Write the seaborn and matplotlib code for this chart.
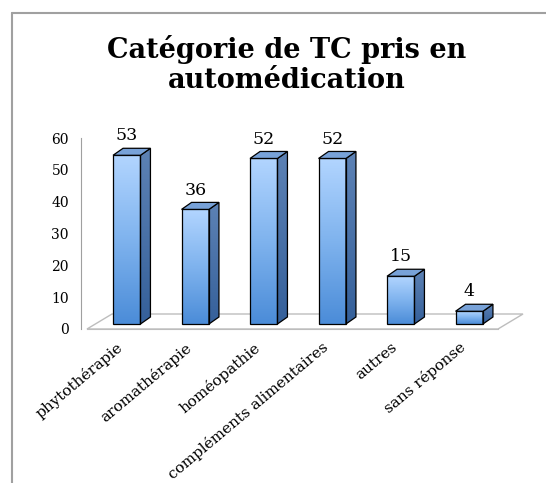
import numpy as np
import matplotlib
matplotlib.use("Agg")
import matplotlib.pyplot as plt
import seaborn as sns
from matplotlib.colors import LinearSegmentedColormap
from matplotlib.patches import Polygon
from matplotlib.lines import Line2D

categories = ["phytothérapie", "aromathérapie", "homéopathie",
              "compléments alimentaires", "autres", "sans réponse"]
values = [53, 36, 52, 52, 15, 4]
y_ticks = [0, 10, 20, 30, 40, 50, 60]
title = "Catégorie de TC pris en\nautomédication"

sns.set_style("white")
plt.rcParams['font.family'] = ['DejaVu Serif']
plt.rcParams['text.color'] = 'black'
plt.rcParams['xtick.labelcolor'] = 'black'
plt.rcParams['ytick.labelcolor'] = 'black'

fig = plt.figure(figsize=(5.46, 4.83), dpi=100)
ax = fig.add_axes([87/546, 154/483, 411/546, 191/483])

# pixel sizes -> data units
px_x = 411 / 6.0
px_y = 191 / 60.0
off_x, off_y = 5.5 / px_x, 5 / px_y      # bars sit a bit inside the floor
dx, dy = 10 / px_x, 7 / px_y             # bar depth
fdx, fdy = 25 / px_x, 15 / px_y          # floor depth

sns.barplot(x=categories, y=values, ax=ax, color="#6fa3e0", width=0.4,
            edgecolor="black", linewidth=0.9, zorder=3)

front_cmap = LinearSegmentedColormap.from_list("front", ["#4b8cd8", "#7fb3ee", "#b2d5ff"])
side_cmap = LinearSegmentedColormap.from_list("side", ["#35609a", "#5d82b5"])
grad = np.linspace(0, 1, 256).reshape(-1, 1)

# floor
floor = Polygon([(-0.5, 0), (5.5, 0), (5.5 + fdx, fdy), (-0.5 + fdx, fdy)],
                closed=True, facecolor="white", edgecolor="#bdbdbd", lw=1.0,
                zorder=1, clip_on=False)
ax.add_patch(floor)

for p, v in zip(ax.patches[:len(values)], values):
    p.set_x(p.get_x() + off_x)
    p.set_y(off_y)
    p.set_facecolor("none")
    x0, x1 = p.get_x(), p.get_x() + p.get_width()
    y0, y1 = off_y, off_y + v
    im = ax.imshow(grad, extent=[x0, x1, y0, y1], origin="lower", aspect="auto",
                   cmap=front_cmap, zorder=2, clip_on=False)
    im.set_clip_path(p)
    side = Polygon([(x1, y0), (x1 + dx, y0 + dy), (x1 + dx, y1 + dy), (x1, y1)],
                   closed=True, facecolor="none", edgecolor="black", lw=0.9, zorder=3)
    ax.add_patch(side)
    im2 = ax.imshow(grad, extent=[x1, x1 + dx, y0, y1 + dy], origin="lower", aspect="auto",
                    cmap=side_cmap, zorder=2)
    im2.set_clip_path(side)
    top = Polygon([(x0, y1), (x1, y1), (x1 + dx, y1 + dy), (x0 + dx, y1 + dy)],
                  closed=True, facecolor="#78a2d8", edgecolor="black", lw=0.9, zorder=3)
    ax.add_patch(top)
    ax.text((x0 + x1) / 2, y1 + dy + 1.2, str(v), ha="center", va="bottom",
            fontsize=12.5)

ax.set_xlim(-0.5, 5.5)
ax.set_ylim(0, 60)
ax.set_yticks(y_ticks)
ax.set_yticklabels([str(t) for t in y_ticks], fontsize=12.5)
ax.set_xticks(range(len(categories)))
ax.set_xticklabels(categories, fontsize=11, rotation=40, ha="right",
                   va="center", rotation_mode="anchor")
ax.set_xticks(np.arange(-0.5, 6, 1), minor=True)
ax.tick_params(axis="x", which="major", length=0, pad=12)
ax.tick_params(axis="x", which="minor", length=4, color="#bdbdbd", direction="out")
ax.tick_params(axis="y", length=3, color="#a0a0a0", direction="out", pad=6)
ax.set_xlabel("")
ax.set_ylabel("")

for s in ["top", "right"]:
    ax.spines[s].set_visible(False)
ax.spines["bottom"].set_color("#bdbdbd")
ax.spines["left"].set_color("#a0a0a0")
ax.spines["left"].set_position(("outward", 4))

fig.text(287/546, 1 - 88/483, title, ha="center", va="baseline", fontsize=19.5,
         fontweight="bold", linespacing=1.15)

# chart frame (only top and left visible)
fig.add_artist(Line2D([12/546, 12/546], [0, 1 - 13/483], color="#a0a0a0", lw=1.5))
fig.add_artist(Line2D([12/546, 1], [1 - 13/483, 1 - 13/483], color="#a0a0a0", lw=1.5))

fig.savefig("out.png", dpi=100)
